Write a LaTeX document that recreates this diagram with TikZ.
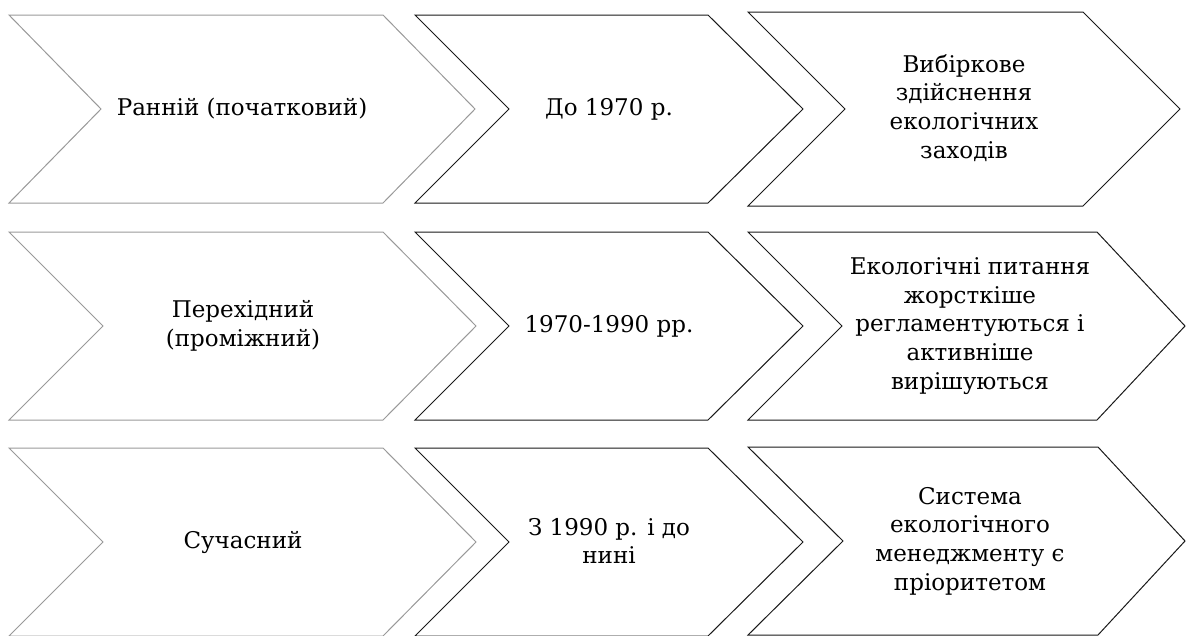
\documentclass[tikz,border=0pt]{standalone}
\usepackage{fontspec}
\setmainfont{DejaVu Serif}
\begin{document}
\begin{tikzpicture}[x=1pt,y=-1pt,
  chevgray/.style={draw=black!40, line width=1pt, line join=miter},
  chevblack/.style={draw=black!90, line width=1pt, line join=miter},
  label/.style={align=center, font=\fontsize{23}{28.7}\selectfont, inner sep=0pt, text=black}]
\useasboundingbox (0,0) rectangle (1186,635);
% chevron: L, N, TR, TIP, T, B
\newcommand\mychev[7]{%
  \draw[#1] (#2,#6) -- (#4,#6) -- (#5,{(#6+#7)/2}) -- (#4,#7) -- (#2,#7) -- (#3,{(#6+#7)/2}) -- cycle;}
% row 1
\mychev{chevgray}{9}{101}{383}{475}{15}{203}
\mychev{chevblack}{415}{509}{708}{803}{15}{203}
\mychev{chevblack}{748}{845}{1083}{1180}{12}{206}
% row 2
\mychev{chevgray}{9}{103}{383}{476}{232}{420}
\mychev{chevblack}{415}{509}{708}{803}{232}{420}
\mychev{chevblack}{748}{842}{1097}{1185}{232}{420}
% row 3
\mychev{chevgray}{9}{103}{383}{476}{448}{636}
\mychev{chevblack}{415}{509}{708}{803}{448}{636}
\mychev{chevblack}{748}{843}{1098}{1185}{447}{635}
% labels
\node[label] (a1) at (242,109) {Ранній (початковий)};
\node[label] (b1) at (609,109) {До 1970 р.};
\node[label] (c1) at (964,108) {Вибіркове\\здійснення\\екологічних\\заходів};
\node[label] (a2) at (243,326) {Перехідний\\(проміжний)};
\node[label] (b2) at (609,326) {1970-1990 рр.};
\node[label] (c2) at (970,326) {Екологічні питання\\жорсткіше\\регламентуються і\\активніше\\вирішуються};
\node[label] (a3) at (243,542) {Сучасний};
\node[label] (b3) at (609,541) {З 1990 р. і до\\нині};
\node[label] (c3) at (970,541) {Система\\екологічного\\менеджменту є\\пріоритетом};
\end{tikzpicture}
\end{document}
